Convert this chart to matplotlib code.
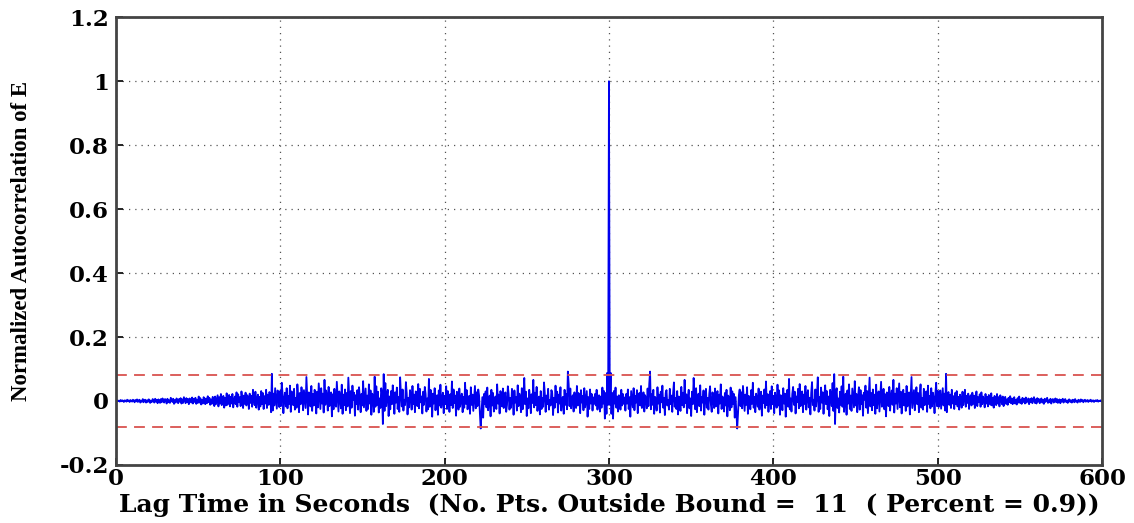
import matplotlib
matplotlib.use("Agg")
import matplotlib.pyplot as plt
import numpy as np

# ── Data ──────────────────────────────────────────────────────────────────────
# one-sided normalized autocorrelation (x1000), lags 1..599 half-seconds away
# from the centre peak; an autocorrelation is symmetric so the other side mirrors it
ACF_SIDE = [
    -12, 88, -40, 25, -55, 31, -8, 42, -21, 14, -33, 18, 6, -27, 35, -14, 22, -9, 11, -30,
    22, -8, 36, -25, 12, -49, 31, 4, -20, 40, -29, 16, -5, 34, -38, 10, 25, -14, 47, -22,
    -9, 27, -33, 18, 6, -23, 39, -16, 53, 92, -26, 21, -12, 35, -40, 13, 5, -30, 43, -8,
    20, -36, 29, -4, 48, -21, 10, -44, 25, 34, -14, 3, -27, 38, -10, 17, -34, 23, 58, -18,
    9, -25, 31, -42, 14, 4, -31, 44, -13, 26, -20, 66, -6, 21, -38, 12, 35, -23, 8, -47,
    29, -10, 72, 18, -26, 40, -35, 6, 23, -16, 49, -30, 13, -5, 33, -43, 16, 38, -21, 10,
    -27, 22, 46, -12, -34, 27, 5, -22, 39, -17, 12, 31, -39, 20, -8, 52, -25, 14, 3, -33,
    25, -14, 35, -48, 17, 8, -29, 42, -20, 30, -10, 22, -52, 12, -36, -86, -39, 18, 36, -16,
    27, -23, 47, 9, -31, 20, -12, 43, -40, 16, 4, -26, 34, -9, 57, -21, 13, -35, 23, 6,
    -18, 39, -27, 12, 29, -46, 17, -6, 36, -22, 61, -13, 21, -34, 9, 31, -25, 46, -10, 16,
    -38, 26, 5, -21, 51, -14, 33, -43, 18, 10, -29, 40, -8, 23, -49, 13, 35, -18, 69, -26,
    8, -33, 22, 44, -12, 29, -39, 14, -4, 38, -23, 53, -16, 9, 30, -35, 20, -9, 47, -27,
    17, 34, -20, 10, -42, 25, 59, -13, 4, -30, 36, -17, 21, 74, -34, 12, -25, 42, -5, 27,
    -40, 18, 49, -10, 31, -26, 14, -47, 35, 20, -16, 56, -31, 84, -72, 25, 40, -22, 8, -36,
    29, -12, 46, -18, 76, -34, 13, 23, -43, 33, -8, 52, -25, 17, -31, 39, 9, -20, 62, -14,
    22, -35, 12, 43, -27, 34, -10, 18, -46, 26, 4, 48, -21, 31, -38, 14, 73, -17, 25, -29,
    36, -13, 20, -40, 51, -23, 9, 30, -33, 16, 60, -18, -5, 38, -26, 21, -48, 27, 10, -16,
    44, -30, 17, 33, -12, 66, -36, 23, -8, 40, -25, 13, 55, -20, 29, -39, 8, 35, -14, 22,
    -31, 47, -17, 12, 27, -42, 18, 75, -22, 6, 34, -29, 14, 43, -10, 25, -35, 16, 52, -21,
    10, -27, 38, -13, 20, 30, -34, 48, -9, 16, -23, 40, -17, 26, 8, -38, 22, 57, -16, 31,
    -19, 14, 33, -24, 9, 40, -14, 23, -30, 85, -35, 18, 28, -12, 20, -22, 35, -8, 15, -25,
    25, -10, 31, -17, 13, -27, 20, 5, -21, 29, -13, 9, 35, -18, 16, -6, 23, -25, 12, 18,
    -14, 26, -9, 17, -22, 8, 30, -16, 12, -4, 21, -18, 27, -10, 14, 4, -20, 22, -8, 13,
    -17, 19, 6, -12, 24, -14, 10, -21, 16, 3, -13, 22, -8, 12, -17, 18, 5, -10, 14, -16,
    7, 13, -9, 5, -12, 10, -4, 15, -7, 8, -10, 6, 12, -8, 3, -11, 9, -5, 14, -6,
    4, -9, 10, -3, 7, -8, 11, -5, 2, 8, -10, 6, -4, 9, -7, 3, 12, -6, 5, -8,
    9, -2, 6, -7, 4, 8, -5, 3, -9, 7, -3, 5, 10, -6, 2, -4, 7, -8, 4, 6,
    -5, 3, 8, -4, 6, -6, 2, 5, -7, 4, -2, 7, -5, 3, 6, -3, 1, -6, 4, 5,
    -3, 2, -5, 4, 3, -4, 6, -2, 1, -5, 4, 2, -3, 5, -1, 3, -4, 2, 4, -2,
    1, 3, -3, 2, -1, 4, -2, 1, 2, -3, 1, 2, -1, 3, -2, 1, 0, 2, -1,
]
PEAK = 1.0
LAG_STEP = 0.5          # seconds per lag
BOUND = 0.08            # confidence bound
X_TICKS = [0, 100, 200, 300, 400, 500, 600]
Y_TICKS = [-0.2, 0, 0.2, 0.4, 0.6, 0.8, 1, 1.2]
Y_TICK_LABELS = ["-0.2", "0", "0.2", "0.4", "0.6", "0.8", "1", "1.2"]
N_OUTSIDE = 11
PERCENT = 0.9

side = np.array(ACF_SIDE) / 1000.0
acf = np.concatenate([side[::-1], [PEAK], side])
n_side = len(side)
lags = (np.arange(-n_side, n_side + 1) + n_side + 1) * LAG_STEP

TICK_FONT = ["DejaVu Serif"]
LABEL_FONT = ["Liberation Serif", "DejaVu Serif"]

fig = plt.figure(figsize=(11.34, 5.23), dpi=100)
ax = fig.add_axes([0.102, 0.111, 0.870, 0.856])

ax.plot(lags, acf, color="#0000ee", linewidth=1.3)
ax.axhline(BOUND, color="#d9534f", linestyle=(0, (6, 4)), linewidth=1.3)
ax.axhline(-BOUND, color="#d9534f", linestyle=(0, (6, 4)), linewidth=1.3)

ax.set_xlim(0, 600)
ax.set_ylim(-0.2, 1.2)
ax.set_xticks(X_TICKS)
ax.set_yticks(Y_TICKS)
ax.set_yticklabels(Y_TICK_LABELS)
ax.grid(True, linestyle=(0, (1, 4)), color="#555555", linewidth=0.9)
ax.tick_params(direction="in", length=5, width=1.2, labelsize=16.5)
ax.tick_params(axis="y", pad=5)
ax.tick_params(axis="x", pad=2)
for lab in ax.get_xticklabels() + ax.get_yticklabels():
    lab.set_family(TICK_FONT)
    lab.set_fontweight("bold")
for sp in ax.spines.values():
    sp.set_linewidth(2)
    sp.set_color("#444444")

ax.set_xlabel(f"Lag Time in Seconds  (No. Pts. Outside Bound =  {N_OUTSIDE}  ( Percent = {PERCENT}))",
              family=TICK_FONT, fontweight="bold", fontsize=18, labelpad=2)
ax.set_ylabel("Normalized Autocorrelation of E", family=LABEL_FONT,
              fontweight="bold", fontsize=16.5)
ax.yaxis.set_label_coords(-0.085, 0.5)

fig.savefig("out.png", dpi=100)
